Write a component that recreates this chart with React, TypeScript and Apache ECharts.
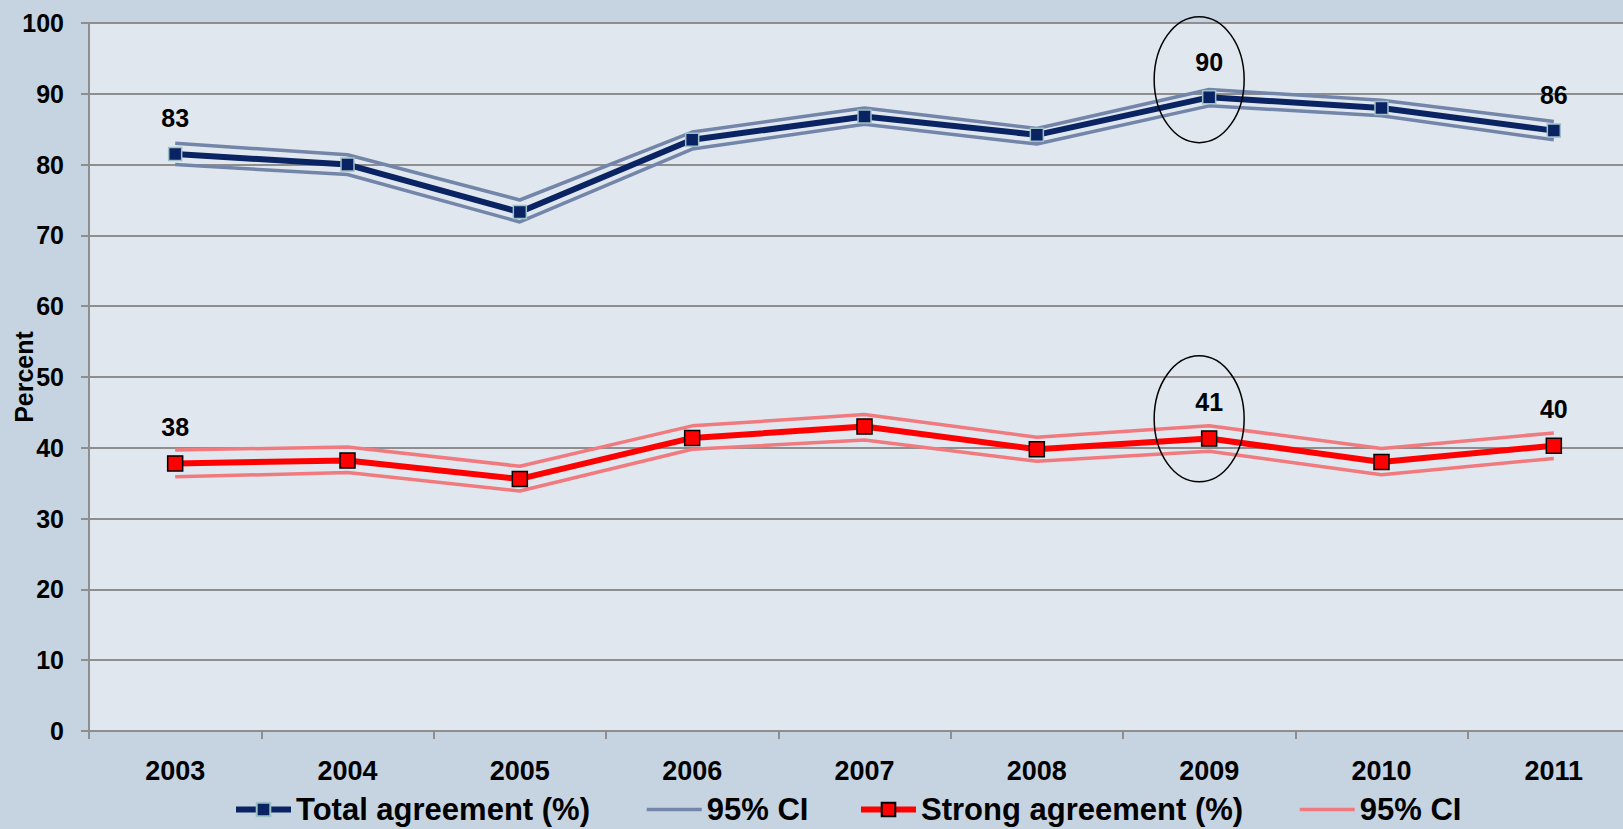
import React, { useEffect, useRef } from "react";
import * as echarts from "echarts";

const years = ["2003", "2004", "2005", "2006", "2007", "2008", "2009", "2010", "2011"];
const totalAgreement = [81.5, 80.0, 73.3, 83.5, 86.8, 84.2, 89.5, 88.0, 84.8];
const totalUpper = [83.0, 81.4, 75.0, 84.6, 88.0, 85.1, 90.6, 89.1, 86.1];
const totalLower = [80.0, 78.6, 71.9, 82.2, 85.7, 82.9, 88.3, 86.9, 83.5];
const strongAgreement = [37.8, 38.2, 35.6, 41.4, 43.0, 39.8, 41.3, 38.0, 40.3];
const strongUpper = [39.7, 40.1, 37.4, 43.1, 44.7, 41.5, 43.1, 39.9, 42.1];
const strongLower = [35.9, 36.5, 33.9, 39.8, 41.1, 38.1, 39.5, 36.2, 38.5];
const totalLabels = ["83", "", "", "", "", "", "90", "", "86"];
const strongLabels = ["38", "", "", "", "", "", "41", "", "40"];
const highlightYear = "2009";

const FONT = '"Liberation Sans", Arial, sans-serif';

const NAVY = "#0A2463";
const NAVY_CI = "#7386A9";
const RED = "#FF0000";
const RED_CI = "#F07A7E";

function withLabels(values: number[], labels: string[]) {
  return values.map((v, i) =>
    labels[i]
      ? { value: v, label: { show: true, formatter: labels[i] } }
      : { value: v }
  );
}

export default function App() {
  const ref = useRef<HTMLDivElement>(null);

  useEffect(() => {
    document.body.style.margin = "0";
    document.body.style.overflow = "hidden";
    if (!ref.current) return;
    const chart = echarts.init(ref.current, undefined, { renderer: "svg" });

    const labelStyle = {
      show: false,
      position: "top" as const,
      distance: 16,
      fontFamily: FONT,
      fontWeight: "bold" as const,
      fontSize: 25,
      color: "#000",
    };

    const ciSeries = (name: string, data: number[], color: string) => ({
      name,
      type: "line",
      data,
      symbol: "none",
      z: 2,
      lineStyle: { color, width: 3.5 },
      itemStyle: { color },
      silent: true,
    });

    const legendCommon = {
      top: 794,
      padding: 0,
      itemWidth: 55,
      itemHeight: 17,
      formatter: (n: string) => (n.startsWith("95% CI") ? "95% CI" : n),
      textStyle: {
        fontFamily: FONT,
        fontWeight: "bold" as const,
        fontSize: 31,
        color: "#000",
      },
    };
    const hiddenSymbol = {
      color: "rgba(0,0,0,0)",
      borderColor: "rgba(0,0,0,0)",
      borderWidth: 0,
    };

    chart.setOption({
      animation: false,
      backgroundColor: "#C6D4E1",
      grid: {
        left: 89,
        right: -17,
        top: 23,
        bottom: 98,
        outerBoundsMode: "none",
        containLabel: false,
        show: true,
        backgroundColor: "#E0E7EF",
        borderWidth: 0,
      },
      legend: [
        {
          ...legendCommon,
          left: 233,
          data: ["Total agreement (%)"],
          lineStyle: { width: 6 },
        },
        {
          ...legendCommon,
          left: 645,
          data: ["95% CI (total)"],
          lineStyle: { width: 3.5 },
          itemStyle: hiddenSymbol,
        },
        {
          ...legendCommon,
          left: 858,
          data: ["Strong agreement (%)"],
          lineStyle: { width: 6 },
        },
        {
          ...legendCommon,
          left: 1298,
          data: ["95% CI (strong)"],
          lineStyle: { width: 3.5 },
          itemStyle: hiddenSymbol,
        },
      ],
      xAxis: {
        type: "category",
        data: years,
        boundaryGap: true,
        axisLine: { lineStyle: { color: "#8E8E8E", width: 2 } },
        axisTick: { show: true, length: 8, lineStyle: { color: "#8E8E8E", width: 2 } },
        axisLabel: {
          margin: 26,
          fontFamily: FONT,
          fontWeight: "bold",
          fontSize: 27,
          color: "#000",
        },
      },
      yAxis: {
        type: "value",
        min: 0,
        max: 100,
        interval: 10,
        name: "Percent",
        nameLocation: "middle",
        nameGap: 53,
        nameMoveOverlap: false,
        nameRotate: 90,
        nameTextStyle: {
          fontFamily: FONT,
          fontWeight: "bold",
          fontSize: 25,
          color: "#000",
        },
        axisLine: { show: true, lineStyle: { color: "#8E8E8E", width: 2 } },
        axisTick: { show: true, length: 8, lineStyle: { color: "#8E8E8E", width: 2 } },
        splitLine: { show: true, lineStyle: { color: "#8E8E8E", width: 2 } },
        axisLabel: {
          margin: 25,
          fontFamily: FONT,
          fontWeight: "bold",
          fontSize: 25,
          color: "#000",
        },
      },
      series: [
        ciSeries("95% CI (total)", totalUpper, NAVY_CI),
        ciSeries("95% CI (total)", totalLower, NAVY_CI),
        ciSeries("95% CI (strong)", strongUpper, RED_CI),
        ciSeries("95% CI (strong)", strongLower, RED_CI),
        {
          name: "Total agreement (%)",
          type: "line",
          z: 5,
          data: withLabels(totalAgreement, totalLabels),
          symbol: "rect",
          symbolSize: 13,
          lineStyle: { color: NAVY, width: 6 },
          itemStyle: { color: NAVY, borderColor: "#9EC0C6", borderWidth: 1.5 },
          label: labelStyle,
        },
        {
          name: "Strong agreement (%)",
          type: "line",
          z: 5,
          data: withLabels(strongAgreement, strongLabels),
          symbol: "rect",
          symbolSize: 15,
          lineStyle: { color: RED, width: 6 },
          itemStyle: { color: RED, borderColor: "#000", borderWidth: 1.5 },
          label: labelStyle,
        },
      ],
    });

    const idx = years.indexOf(highlightYear);
    const c1 = chart.convertToPixel({ gridIndex: 0 }, [highlightYear, totalAgreement[idx] + 2.5]);
    const c2 = chart.convertToPixel({ gridIndex: 0 }, [highlightYear, strongAgreement[idx] + 2.8]);
    const ell = (c: number[]) => ({
      type: "ellipse",
      shape: { cx: c[0] - 10, cy: c[1], rx: 45, ry: 63 },
      style: { fill: "none", stroke: "#000", lineWidth: 1.5 },
      z: 100,
      silent: true,
    });
    chart.setOption({ graphic: [ell(c1), ell(c2)] });

    return () => chart.dispose();
  }, []);

  return (
    <div
      ref={ref}
      style={{ position: "absolute", left: 0, top: 0, width: 1623, height: 829 }}
    />
  );
}
